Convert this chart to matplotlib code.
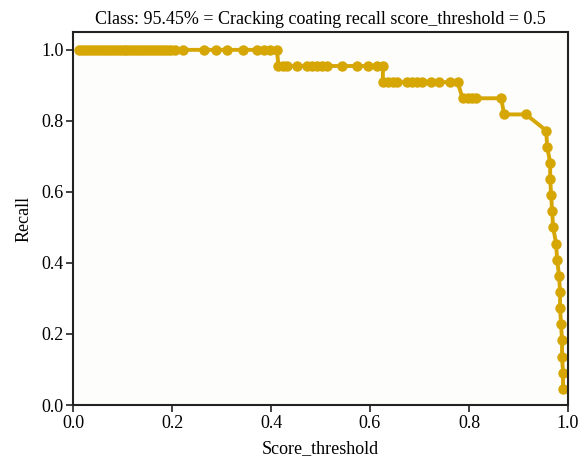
import matplotlib.pyplot as plt
import numpy as np

plt.rcParams['font.family'] = ['Liberation Serif', 'DejaVu Serif']

# score thresholds and the recall reached at each one (22 ground-truth objects)
thr_full = [0.012, 0.018, 0.024, 0.030, 0.036, 0.042, 0.048, 0.054, 0.060, 0.066,
            0.072, 0.078, 0.084, 0.090, 0.096, 0.102, 0.108, 0.114, 0.120, 0.126,
            0.132, 0.138, 0.144, 0.150, 0.156, 0.162, 0.168, 0.174, 0.180, 0.186,
            0.192, 0.198, 0.207, 0.223, 0.264, 0.288, 0.312, 0.344, 0.372, 0.385,
            0.398, 0.412]
thr_21 = [0.415, 0.425, 0.433, 0.453, 0.473, 0.483, 0.493, 0.503, 0.513, 0.543,
          0.573, 0.596, 0.614, 0.626]
thr_20 = [0.626, 0.636, 0.646, 0.654, 0.674, 0.684, 0.695, 0.706, 0.724, 0.740,
          0.761, 0.777]
thr_19 = [0.787, 0.797, 0.806, 0.815, 0.865]
thr_18 = [0.871, 0.915]
thr_tail = [0.956, 0.958, 0.964, 0.964, 0.966, 0.968, 0.970, 0.976, 0.978, 0.982,
            0.984, 0.984, 0.986, 0.988, 0.988, 0.990, 0.990]
hits_tail = [17, 16, 15, 14, 13, 12, 11, 10, 9, 8, 7, 6, 5, 4, 3, 2, 1]
n_gt = 22

thresholds = np.array(thr_full + thr_21 + thr_20 + thr_19 + thr_18 + thr_tail)
hits = np.array([22] * len(thr_full) + [21] * len(thr_21) + [20] * len(thr_20)
                + [19] * len(thr_19) + [18] * len(thr_18) + hits_tail)
recall = hits / n_gt

fig = plt.figure(figsize=(5.87, 4.65), dpi=100)
ax = fig.add_axes([0.1244, 0.129, 0.8432, 0.802])
ax.set_facecolor('#fdfdfb')

ax.plot(thresholds, recall, color='#d6a605', linewidth=2.8,
        marker='o', markersize=7.5, markeredgewidth=0)

ax.set_xlim(0, 1.0)
ax.set_ylim(0, 1.05)
ax.set_xticks(np.arange(0, 1.01, 0.2))
ax.set_yticks(np.arange(0, 1.01, 0.2))
ax.tick_params(labelsize=13, length=5, width=1.2, color='#222222', pad=2)
for s in ax.spines.values():
    s.set_linewidth(1.5)
    s.set_color('#222222')

ax.set_xlabel('Score_threshold', fontsize=13, labelpad=6)
ax.set_ylabel('Recall', fontsize=13, labelpad=6)
ax.set_title('Class: 95.45% = Cracking coating recall score_threshold = 0.5',
             fontsize=13, pad=6)

plt.savefig('out.png', dpi=100)
